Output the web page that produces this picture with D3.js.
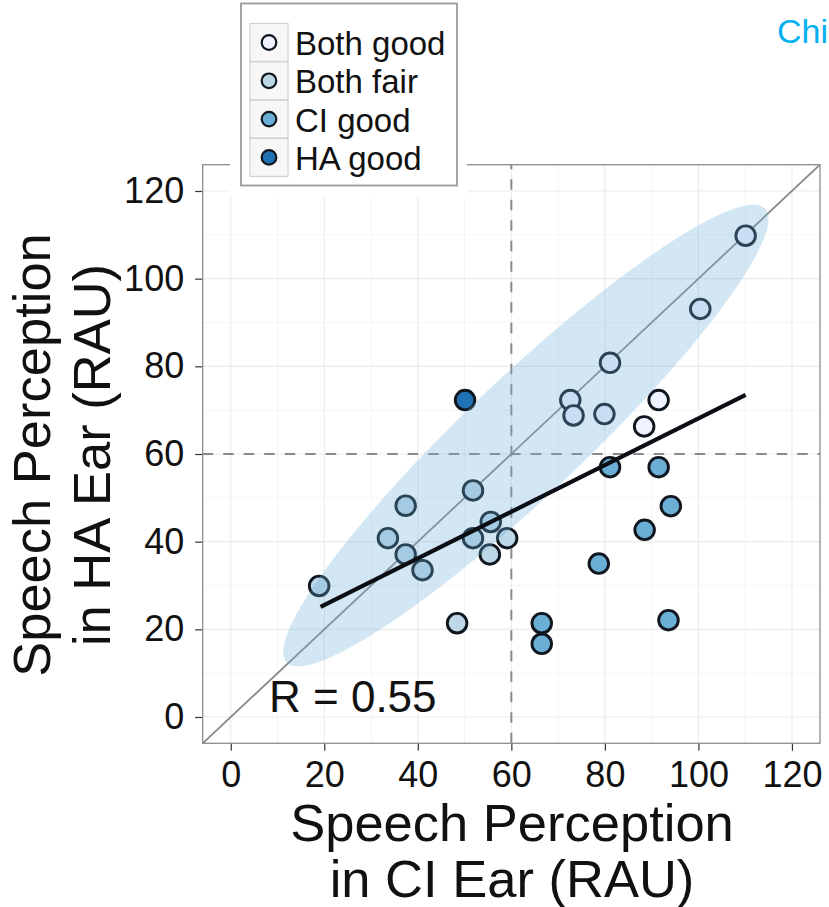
<!DOCTYPE html>
<html>
<head>
<meta charset="utf-8">
<script src="https://cdn.jsdelivr.net/npm/d3@7"></script>
<style>
  body { margin: 0; background: #fff; }
  svg { display: block; }
  text { font-family: "Liberation Sans", Arial, Helvetica, sans-serif; }
</style>
</head>
<body>
<svg id="chart" width="829" height="907"></svg>
<script>
// Hearing groups and their fills
const groups = ["Both good", "Both fair", "CI good", "HA good"];
const groupColors = ["#eff3ff", "#bdd7e7", "#6baed6", "#2171b5"];

// Per-child scores (RAU): cochlear-implant ear vs hearing-aid ear
const ciScore = [110.1, 100.4, 81.1, 72.6, 73.3, 79.9, 91.5, 88.4,
                 51.8, 37.4, 33.6, 37.4, 41.0, 18.9, 51.8, 55.6, 55.4, 59.1, 48.4,
                 81.1, 91.5, 94.1, 88.5, 78.7, 66.5, 66.5, 93.6,
                 50.1];
const haScore = [109.8, 93.1, 80.8, 72.3, 68.8, 69.1, 72.3, 66.3,
                 51.7, 48.2, 40.8, 37.1, 33.5, 29.9, 40.8, 44.5, 37.1, 40.8, 21.4,
                 57.0, 57.0, 48.1, 42.7, 35.0, 21.4, 16.7, 22.1,
                 72.3];
const pointGroup = ["Both good", "Both good", "Both good", "Both good", "Both good", "Both good", "Both good", "Both good",
                    "Both fair", "Both fair", "Both fair", "Both fair", "Both fair", "Both fair", "Both fair", "Both fair", "Both fair", "Both fair", "Both fair",
                    "CI good", "CI good", "CI good", "CI good", "CI good", "CI good", "CI good", "CI good",
                    "HA good"];

// Axis ticks
const xTicks = [0, 20, 40, 60, 80, 100, 120];
const yTicks = [0, 20, 40, 60, 80, 100, 120];
const gridValues = [0, 10, 20, 30, 40, 50, 60, 70, 80, 90, 100, 110, 120];

// Linear fit end points (CI, HA)
const fitCI = [19.2, 110.1];
const fitHA = [25.1, 73.5];

// Ellipse around the diagonal: centre, semi-axes, angle (degrees)
const ellipseCenter = [63.1, 64.2];
const ellipseAxes = [72.8, 13.0];
const ellipseAngle = 45.45;

// Cut-off for "good" performance
const cutoff = 60;
const rLabel = "R = 0.55";

const svg = d3.select("#chart");

const x = d3.scaleLinear().domain([-6, 126]).range([202.7, 820]);
const y = d3.scaleLinear().domain([-6, 126]).range([743.3, 164.7]);
const color = d3.scaleOrdinal().domain(groups).range(groupColors);

const [x0, x1] = x.range();
const [y0, y1] = y.range();

// Grid: minor every 10, major every 20
const grid = svg.append("g");
gridValues.forEach(v => {
  const major = v % 20 === 0;
  grid.append("line")
    .attr("x1", x(v)).attr("x2", x(v)).attr("y1", y0).attr("y2", y1)
    .attr("stroke", major ? "#ebebeb" : "#f3f3f3").attr("stroke-width", major ? 1.1 : 0.8);
  grid.append("line")
    .attr("y1", y(v)).attr("y2", y(v)).attr("x1", x0).attr("x2", x1)
    .attr("stroke", major ? "#ebebeb" : "#f3f3f3").attr("stroke-width", major ? 1.1 : 0.8);
});

// Axes
const xAxis = svg.append("g")
  .attr("transform", `translate(0,${y0})`)
  .call(d3.axisBottom(x).tickValues(xTicks).tickSize(7.5).tickPadding(11).tickFormat(d3.format("d")));
const yAxis = svg.append("g")
  .attr("transform", `translate(${x0},0)`)
  .call(d3.axisLeft(y).tickValues(yTicks).tickSize(7.5).tickPadding(11).tickFormat(d3.format("d")));
[xAxis, yAxis].forEach(a => {
  a.select(".domain").remove();
  a.selectAll(".tick line").attr("stroke", "#333").attr("stroke-width", 1.2);
  a.selectAll(".tick text").attr("font-size", 36).attr("fill", "#111")
    .style("font-family", '"Liberation Sans", Arial, sans-serif');
});

// Panel border
svg.append("rect")
  .attr("x", x0).attr("y", y1).attr("width", x1 - x0).attr("height", y0 - y1)
  .attr("fill", "none").attr("stroke", "#8c8c8c").attr("stroke-width", 1.3);

// Cut-off lines
svg.append("line")
  .attr("x1", x(cutoff)).attr("x2", x(cutoff)).attr("y1", y0).attr("y2", y1)
  .attr("stroke", "#8a8a8a").attr("stroke-width", 2).attr("stroke-dasharray", "10.5,10");
svg.append("line")
  .attr("x1", x0).attr("x2", x1).attr("y1", y(cutoff)).attr("y2", y(cutoff))
  .attr("stroke", "#8a8a8a").attr("stroke-width", 2).attr("stroke-dasharray", "10.5,10");

// Identity line
svg.append("line")
  .attr("x1", x(-6)).attr("y1", y(-6)).attr("x2", x(126)).attr("y2", y(126))
  .attr("stroke", "#888").attr("stroke-width", 1.8);

// Points
const points = ciScore.map((c, i) => ({ ci: c, ha: haScore[i], group: pointGroup[i] }));
svg.append("g").selectAll("circle")
  .data(points)
  .join("circle")
  .attr("cx", d => x(d.ci))
  .attr("cy", d => y(d.ha))
  .attr("r", 9.8)
  .attr("fill", d => color(d.group))
  .attr("stroke", "#10161d")
  .attr("stroke-width", 2.9);

// Translucent ellipse along the diagonal
const th = ellipseAngle * Math.PI / 180;
const ellipsePts = d3.range(0, 361, 3).map(deg => {
  const t = deg * Math.PI / 180;
  const u = ellipseAxes[0] * Math.cos(t), v = ellipseAxes[1] * Math.sin(t);
  return [ellipseCenter[0] + u * Math.cos(th) - v * Math.sin(th),
          ellipseCenter[1] + u * Math.sin(th) + v * Math.cos(th)];
});
svg.append("path")
  .datum(ellipsePts)
  .attr("d", d3.line().x(d => x(d[0])).y(d => y(d[1])).curve(d3.curveLinearClosed))
  .attr("fill", "#6baed6").attr("fill-opacity", 0.3).attr("stroke", "none");

// Linear fit
svg.append("line")
  .attr("x1", x(fitCI[0])).attr("y1", y(fitHA[0]))
  .attr("x2", x(fitCI[1])).attr("y2", y(fitHA[1]))
  .attr("stroke", "#0b0f14").attr("stroke-width", 4.2);

// Correlation label
svg.append("text")
  .attr("x", 269).attr("y", 712)
  .attr("font-size", 44).attr("fill", "#111")
  .text(rLabel);

// Axis titles
const xTitle = svg.append("text").attr("text-anchor", "middle").attr("font-size", 52.5).attr("fill", "#111");
xTitle.append("tspan").attr("x", 512).attr("y", 841).text("Speech Perception");
xTitle.append("tspan").attr("x", 512).attr("y", 897).text("in CI Ear (RAU)");

const yTitle = svg.append("text").attr("text-anchor", "middle").attr("font-size", 52.5).attr("fill", "#111")
  .attr("transform", "translate(0,455) rotate(-90)");
yTitle.append("tspan").attr("x", 0).attr("y", 50).text("Speech Perception");
yTitle.append("tspan").attr("x", 0).attr("y", 110).text("in HA Ear (RAU)");

// Legend
const legend = svg.append("g");
legend.append("rect").attr("x", 230).attr("y", 0).attr("width", 237).attr("height", 197).attr("fill", "#fff");
legend.append("rect").attr("x", 241).attr("y", 3.5).attr("width", 216).attr("height", 182)
  .attr("fill", "#fff").attr("stroke", "#999").attr("stroke-width", 1.8);
groups.forEach((g, i) => {
  const cy = 42.5 + i * 38.3;
  legend.append("rect").attr("x", 250).attr("y", cy - 19).attr("width", 38).attr("height", 38)
    .attr("fill", "#f7f7f7").attr("stroke", "#d0d0d0").attr("stroke-width", 1.2);
  legend.append("circle").attr("cx", 269).attr("cy", cy).attr("r", 7.3)
    .attr("fill", color(g)).attr("stroke", "#10161d").attr("stroke-width", 2.2);
  legend.append("text").attr("x", 295).attr("y", cy + 12.5)
    .attr("font-size", 33).attr("fill", "#111").text(g);
});

// Heading fragment at the top right
svg.append("text").attr("x", 777).attr("y", 43)
  .attr("font-size", 34).attr("fill", "#00b0f0").text("Chi");
</script>
</body>
</html>
